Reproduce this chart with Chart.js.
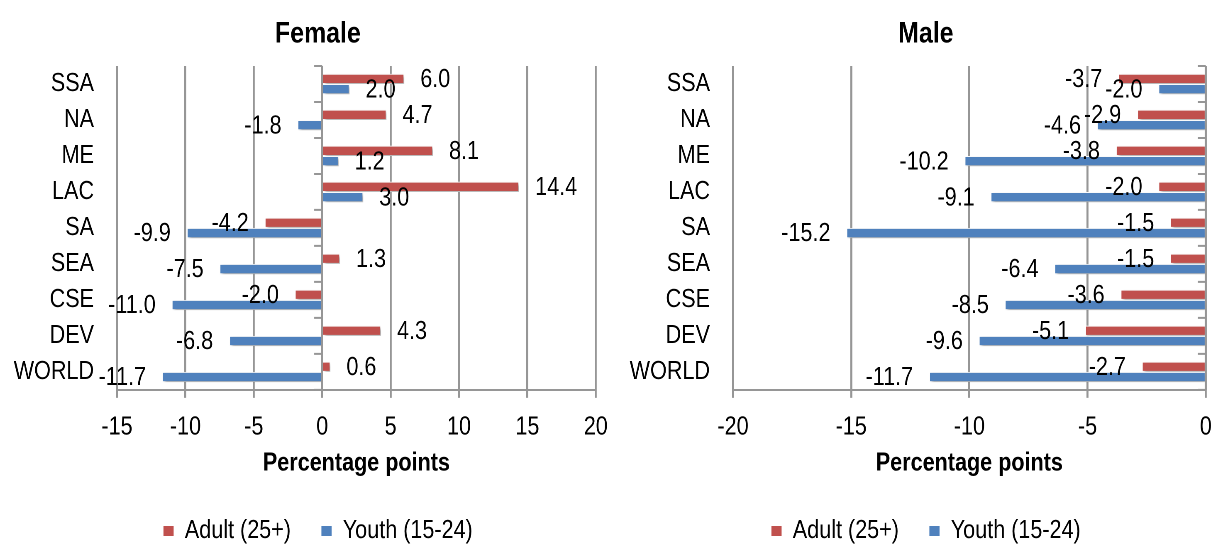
<!DOCTYPE html>
<html><head><meta charset="utf-8">
<script src="https://cdn.jsdelivr.net/npm/chart.js@4.4.1/dist/chart.umd.min.js"></script>
<style>
html,body{margin:0;padding:0;background:#fff;}
#wrap{position:relative;width:1215px;height:545px;overflow:hidden;background:#fff;}
canvas{position:absolute;top:0;transform-origin:0 0;transform:scaleX(0.83);}
#c1{left:0;}
#c2{left:620px;}
</style></head>
<body><div id="wrap"><canvas id="c1" width="766" height="545"></canvas><canvas id="c2" width="737" height="545"></canvas></div>
<script>
const categories = ['SSA','NA','ME','LAC','SA','SEA','CSE','DEV','WORLD'];
const seriesNames = ['Adult (25+)','Youth (15-24)'];
const femaleAdult = [6.0,4.7,8.1,14.4,-4.2,1.3,-2.0,4.3,0.6];
const femaleYouth = [2.0,-1.8,1.2,3.0,-9.9,-7.5,-11.0,-6.8,-11.7];
const maleAdult = [-3.7,-2.9,-3.8,-2.0,-1.5,-1.5,-3.6,-5.1,-2.7];
const maleYouth = [-2.0,-4.6,-10.2,-9.1,-15.2,-6.4,-8.5,-9.6,-11.7];
const femaleTicks = [-15,-10,-5,0,5,10,15,20];
const maleTicks = [-20,-15,-10,-5,0];
const panelTitles = ['Female','Male'];
const axisTitle = 'Percentage points';

const SX = 0.83;          // horizontal squeeze to mimic a narrow typeface
const DPR = 2;
const FONT = "'Liberation Sans', Arial, sans-serif";
Chart.defaults.font.family = FONT;
Chart.defaults.color = '#000';
const GRID = '#969696';

const decorPlugin = {
  id: 'decor',
  beforeDatasetsDraw(chart) {
    const ctx = chart.ctx;
    ctx.save();
    ctx.shadowColor = 'rgba(0,0,0,0.33)';
    ctx.shadowBlur = 3 * DPR;
    ctx.shadowOffsetX = 2 * DPR / SX;
    ctx.shadowOffsetY = 2 * DPR;
  },
  afterDatasetsDraw(chart) {
    const ctx = chart.ctx;
    ctx.restore();
    const xs = chart.scales.x, ys = chart.scales.y;
    const zx = xs.getPixelForValue(0);
    const n = chart.data.labels.length;
    const step = (ys.bottom - ys.top) / n;
    ctx.save();
    ctx.strokeStyle = GRID;
    ctx.lineWidth = 2 / SX;
    ctx.beginPath();
    ctx.moveTo(zx, ys.top); ctx.lineTo(zx, ys.bottom);
    ctx.stroke();
    ctx.lineWidth = 2;
    ctx.beginPath();
    for (let i = 0; i <= n; i++) {
      const y = ys.top + i * step;
      ctx.moveTo(zx - 8 / SX, y); ctx.lineTo(zx, y);
    }
    ctx.stroke();
    ctx.restore();
    // value labels
    ctx.save();
    ctx.font = '26px ' + FONT;
    ctx.fillStyle = '#000';
    ctx.textBaseline = 'middle';
    const off = 16 / SX;
    chart.data.datasets.forEach((ds, di) => {
      const meta = chart.getDatasetMeta(di);
      meta.data.forEach((bar, i) => {
        const v = ds.data[i];
        const pos = v >= 0;
        ctx.textAlign = pos ? 'left' : 'right';
        ctx.fillText(v.toFixed(1), pos ? bar.x + off : bar.x - off, bar.y + 1);
      });
    });
    ctx.restore();
  }
};

function makeChart(id, adult, youth, ticks, title, yWidth, padRight) {
  return new Chart(document.getElementById(id), {
    type: 'bar',
    data: {
      labels: categories,
      datasets: [
        {label: seriesNames[0], data: adult, backgroundColor: '#C0504D', borderColor: '#ffffff', borderWidth: 1, borderSkipped: 'start'},
        {label: seriesNames[1], data: youth, backgroundColor: '#4F81BD', borderColor: '#ffffff', borderWidth: 1, borderSkipped: 'start'}
      ]
    },
    options: {
      indexAxis: 'y',
      responsive: false,
      animation: false,
      devicePixelRatio: DPR,
      categoryPercentage: 0.572,
      barPercentage: 1,
      layout: {padding: {left: 0, right: 0, top: 0, bottom: -9}},
      plugins: {
        title: {display: true, text: title, color: '#000', font: {size: 30, weight: 'bold'}, padding: {top: 16, bottom: 14}},
        legend: {position: 'bottom', labels: {boxWidth: 11 / SX, boxHeight: 11, color: '#000', font: {size: 26}, padding: 30 / SX}},
        tooltip: {enabled: false}
      },
      scales: {
        x: {
          min: ticks[0], max: ticks[ticks.length - 1],
          afterBuildTicks: (s) => { s.ticks = ticks.map(v => ({value: v})); },
          afterFit: (s) => { s.height = 92; s.paddingRight = padRight; s.paddingLeft = 0; },
          grid: {color: GRID, lineWidth: 2 / SX, tickLength: 8},
          border: {color: GRID, width: 2},
          ticks: {color: '#000', font: {size: 26}, padding: 14, maxRotation: 0},
          title: {display: true, text: axisTitle, color: '#000', font: {size: 26, weight: 'bold'}, padding: {top: 4, bottom: 3}}
        },
        y: {
          afterFit: (s) => { s.width = yWidth; s.paddingTop = 0; s.paddingBottom = 0; },
          grid: {display: false, drawTicks: false},
          border: {display: false},
          ticks: {color: '#000', font: {size: 26}, padding: 23 / SX}
        }
      }
    },
    plugins: [decorPlugin]
  });
}

makeChart('c1', femaleAdult, femaleYouth, femaleTicks, panelTitles[0], 117 / SX, 40 / SX);
makeChart('c2', maleAdult, maleYouth, maleTicks, panelTitles[1], 113 / SX, 26 / SX);
</script>
</body></html>
